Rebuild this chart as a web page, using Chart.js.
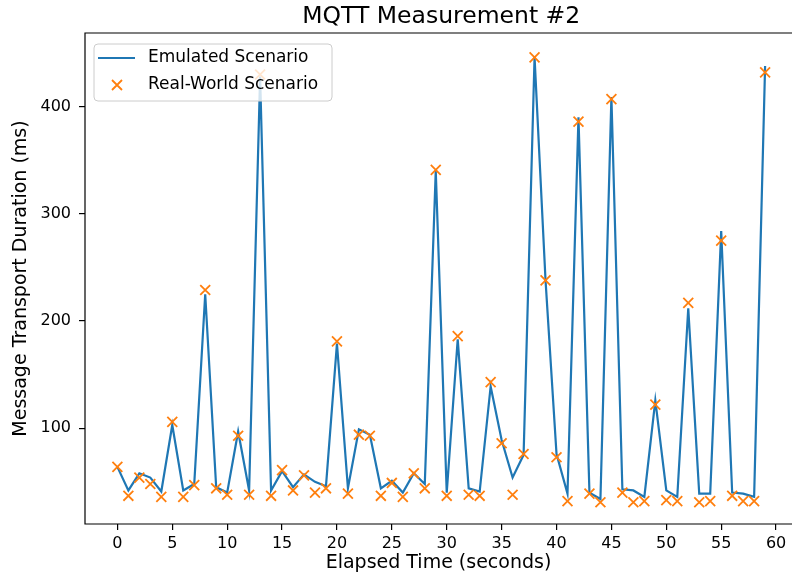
<!DOCTYPE html>
<html>
<head>
<meta charset="utf-8">
<script src="https://cdn.jsdelivr.net/npm/chart.js@4"></script>
<style>
html,body{margin:0;padding:0;overflow:hidden;background:#fff;width:792px;height:582px}
canvas{display:block}
</style>
</head>
<body>
<canvas id="c" width="792" height="582"></canvas>
<script>
const chartTitle = "MQTT Measurement #2";
const xAxisTitle = "Elapsed Time (seconds)";
const yAxisTitle = "Message Transport Duration (ms)";
const seriesNames = ["Emulated Scenario", "Real-World Scenario"];

const times = [0,1,2,3,4,5,6,7,8,9,10,11,12,13,14,15,16,17,18,19,20,21,22,23,24,25,26,27,28,29,
               30,31,32,33,34,35,36,37,38,39,40,41,42,43,44,45,46,47,48,49,50,51,52,53,54,55,56,57,58,59];
const emulated = [64,42,58,54,41,103,42,48,225,45,40,97,42,428,42,60,45,57,50,46,
                  179,44,99,94,44,51,40,58,48,340,40,183,44,41,139,89,54,75,446,238,
                  76,39,390,40,34,409,43,42,36,126,42,36,212,39,39,284,40,39,36,438];
const realWorld = [64,37,54,48,36,106,36,47,229,44,38,93,38,430,37,61,42,56,40,44,
                   181,39,94,93,37,49,36,58,44,341,37,186,38,37,143,86,38,76,446,238,
                   73,32,386,39,31,407,40,31,32,122,33,32,217,31,32,275,37,32,32,432];
const xTicks = [0,5,10,15,20,25,30,35,40,45,50,55,60];
const yTicks = [100,200,300,400];

const FONT = "'DejaVu Sans', sans-serif";
const BLUE = '#1f77b4';
const ORANGE = '#ff7f0e';

const decorPlugin = {
  id: 'decor',
  afterDraw(chart) {
    const ctx = chart.ctx;
    const a = chart.chartArea;
    ctx.save();
    // spines: left, top, bottom (right spine lies past the canvas edge)
    ctx.strokeStyle = '#000';
    ctx.lineWidth = 1.2;
    ctx.beginPath();
    ctx.moveTo(chart.width + 2, a.top);
    ctx.lineTo(a.left, a.top);
    ctx.lineTo(a.left, a.bottom);
    ctx.lineTo(chart.width + 2, a.bottom);
    ctx.stroke();
    // title, centred on the full (uncropped) axes box
    const fullRight = chart.scales.x.getPixelForValue(61.95);
    ctx.fillStyle = '#000';
    ctx.font = '23.5px ' + FONT;
    ctx.textAlign = 'center';
    ctx.textBaseline = 'alphabetic';
    ctx.fillText(chartTitle, (a.left + fullRight) / 2, 23);
    // legend
    const lx = a.left + 9, ly = a.top + 11, lw = 238, lh = 57, r = 4;
    ctx.beginPath();
    ctx.moveTo(lx + r, ly);
    ctx.lineTo(lx + lw - r, ly);
    ctx.quadraticCurveTo(lx + lw, ly, lx + lw, ly + r);
    ctx.lineTo(lx + lw, ly + lh - r);
    ctx.quadraticCurveTo(lx + lw, ly + lh, lx + lw - r, ly + lh);
    ctx.lineTo(lx + r, ly + lh);
    ctx.quadraticCurveTo(lx, ly + lh, lx, ly + lh - r);
    ctx.lineTo(lx, ly + r);
    ctx.quadraticCurveTo(lx, ly, lx + r, ly);
    ctx.closePath();
    ctx.fillStyle = 'rgba(255,255,255,0.8)';
    ctx.fill();
    ctx.strokeStyle = '#cccccc';
    ctx.lineWidth = 1;
    ctx.stroke();
    const row1 = ly + 14, row2 = ly + 41;
    ctx.strokeStyle = BLUE;
    ctx.lineWidth = 2.2;
    ctx.beginPath();
    ctx.moveTo(lx + 4, row1);
    ctx.lineTo(lx + 41, row1);
    ctx.stroke();
    ctx.strokeStyle = ORANGE;
    ctx.lineWidth = 1.8;
    const mx = lx + 23, d = 5;
    ctx.beginPath();
    ctx.moveTo(mx - d, row2 - d); ctx.lineTo(mx + d, row2 + d);
    ctx.moveTo(mx - d, row2 + d); ctx.lineTo(mx + d, row2 - d);
    ctx.stroke();
    ctx.fillStyle = '#000';
    ctx.font = '17px ' + FONT;
    ctx.textAlign = 'left';
    ctx.textBaseline = 'middle';
    ctx.fillText(seriesNames[0], lx + 54, row1);
    ctx.fillText(seriesNames[1], lx + 54, row2);
    ctx.restore();
  }
};

const emulatedPts = times.map((t, i) => ({x: t, y: emulated[i]}));
const realPts = times.map((t, i) => ({x: t, y: realWorld[i]}));

new Chart(document.getElementById('c'), {
  type: 'line',
  data: {
    datasets: [
      {
        label: seriesNames[0],
        data: emulatedPts,
        borderColor: BLUE,
        borderWidth: 2.2,
        pointRadius: 0,
        fill: false,
        tension: 0,
        order: 2
      },
      {
        type: 'scatter',
        label: seriesNames[1],
        data: realPts,
        showLine: false,
        pointStyle: 'crossRot',
        pointRadius: 7,
        borderColor: ORANGE,
        backgroundColor: ORANGE,
        pointBorderWidth: 1.8,
        order: 1
      }
    ]
  },
  options: {
    responsive: false,
    animation: false,
    devicePixelRatio: 1,
    layout: {autoPadding: false, padding: {top: 33, right: 0, left: 0, bottom: 0}},
    plugins: {legend: {display: false}, tooltip: {enabled: false}, title: {display: false}},
    scales: {
      x: {
        type: 'linear',
        min: -2.95,
        max: 61.45,
        afterBuildTicks: s => { s.ticks = xTicks.map(v => ({value: v})); },
        afterFit: s => { s.height = 58; s.paddingLeft = 0; s.paddingRight = 0; },
        grid: {display: true, drawOnChartArea: false, drawTicks: true, tickLength: 6, color: '#000', tickColor: '#000', lineWidth: 1.2},
        border: {display: false},
        ticks: {color: '#000', font: {family: FONT, size: 16}, padding: 4, maxRotation: 0, autoSkip: false},
        title: {display: true, text: xAxisTitle, color: '#000', font: {family: FONT, size: 19}, padding: {top: 0, bottom: 8}}
      },
      y: {
        type: 'linear',
        min: 10.7,
        max: 468.7,
        afterBuildTicks: s => { s.ticks = yTicks.map(v => ({value: v})); },
        afterFit: s => { s.width = 85; s.paddingTop = 0; s.paddingBottom = 0; },
        grid: {display: true, drawOnChartArea: false, drawTicks: true, tickLength: 6, color: '#000', tickColor: '#000', lineWidth: 1.2},
        border: {display: false},
        ticks: {color: '#000', font: {family: FONT, size: 16}, padding: 8},
        title: {display: true, text: yAxisTitle, color: '#000', font: {family: FONT, size: 19}, padding: {top: 10, bottom: 0}}
      }
    }
  },
  plugins: [decorPlugin]
});
</script>
</body>
</html>
